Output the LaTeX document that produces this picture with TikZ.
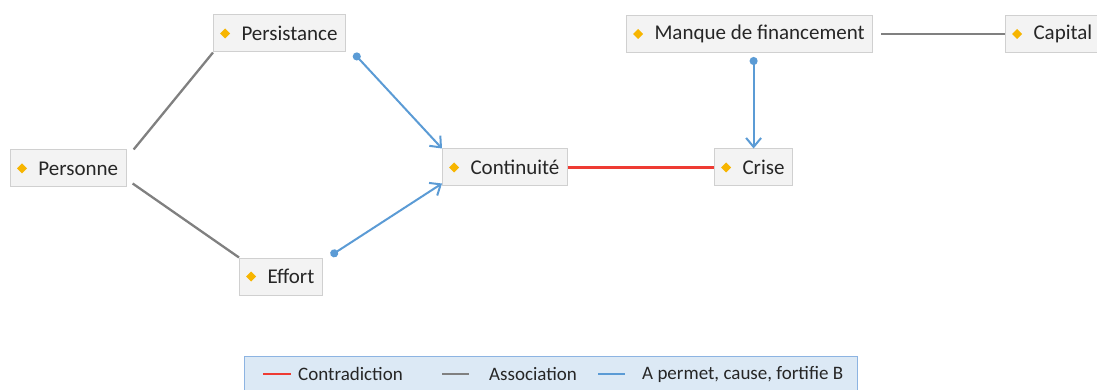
\documentclass[tikz,border=0pt]{standalone}
\usepackage{fontspec}
\setmainfont{Carlito}
\usetikzlibrary{arrows.meta,calc}
\definecolor{boxfill}{HTML}{F3F3F3}
\definecolor{boxline}{HTML}{D0D0D0}
\definecolor{dia}{HTML}{F7B500}
\definecolor{blueln}{HTML}{5B9BD5}
\definecolor{greyln}{HTML}{808080}
\definecolor{redln}{HTML}{EE3B33}
\definecolor{legfill}{HTML}{DCE9F5}
\definecolor{legline}{HTML}{8DB4E2}
\newcommand{\nodefont}{\fontsize{21}{25}\selectfont}
\newcommand{\legfont}{\fontsize{19}{23}\selectfont}
\tikzset{
  box/.style={draw=boxline, fill=boxfill, line width=1pt, minimum height=37pt,
    inner ysep=0pt, inner xsep=0pt, anchor=west, font=\nodefont, text=black!85},
  assoc/.style={draw=greyln, line width=2.3pt},
  contra/.style={draw=redln, line width=2.5pt},
  cause/.style={draw=blueln, line width=2pt,
    {Circle[length=8pt]}-{Straight Barb[length=9pt,width=15pt,line width=2pt]}},
  legtext/.style={anchor=west, font=\legfont, text=black!85, inner sep=0pt},
}
\begin{document}
\begin{tikzpicture}[x=1pt,y=-1pt]
\useasboundingbox (0,0) rectangle (1097,390);
% nodes
\node[box] (personne) at (10,168.5) {\hspace*{28pt}Personne\hspace*{8pt}};
\node[box] (persist) at (213,33.5) {\hspace*{28pt}Persistance\hspace*{8pt}};
\node[box] (effort) at (239,276.5) {\hspace*{28pt}Effort\hspace*{8pt}};
\node[box] (contin) at (442,167.5) {\hspace*{28pt}Continuité\hspace*{8pt}};
\node[box] (crise) at (714,167.5) {\hspace*{28pt}Crise\hspace*{8pt}};
\node[box] (manque) at (626,34) {\hspace*{28pt}Manque de financement\hspace*{8pt}};
\node[box] (capital) at (1005,34) {\hspace*{28pt}Capital\hspace*{8pt}};
% diamonds
\foreach \n in {personne,persist,effort,contin,crise,manque,capital}
  \fill[dia] ([xshift=12pt]\n.west) ++(0,5) -- ++(5,-5) -- ++(-5,-5) -- ++(-5,5) -- cycle;
% connectors
\coordinate (pA) at ($(personne.north east)+(7,0)$);
\coordinate (pB) at ($(personne.south east)+(6,-4)$);
\draw[assoc] (pA) -- (persist.south west);
\draw[assoc] (pB) -- (effort.north west);
\coordinate (sA) at ($(persist.south east)+(8,1)$);
\draw[cause] (sA) -- (contin.north west);
\coordinate (eA) at ($(effort.north east)+(8,-2)$);
\draw[cause] (eA) -- ($(contin.south west)+(0,-3)$);
\draw[contra] (contin.east) -- (crise.west);
\coordinate (mA) at ($(manque.south)+(4,4)$);
\draw[cause] (mA) -- (mA |- crise.north);
\coordinate (mB) at ($(manque.east)+(8,0)$);
\draw[assoc] (mB) -- (capital.west);
% legend
\node[draw=legline, fill=legfill, line width=1pt, minimum width=613pt, minimum height=40pt, anchor=north west, inner sep=0pt] (legend) at (244,356) {};
\coordinate (l1) at (263,374);
\coordinate (l2) at (291,374);
\draw[contra] (l1) -- (l2);
\node[legtext] (t1) at (298,374) {Contradiction};
\coordinate (l3) at (442,374);
\coordinate (l4) at (469,374);
\draw[assoc] (l3) -- (l4);
\node[legtext] (t2) at (489,374) {Association};
\coordinate (l5) at (598,374);
\coordinate (l6) at (625,374);
\draw[blueln, line width=2pt] (l5) -- (l6);
\node[legtext] (t3) at (642,374) {A permet, cause, fortifie B};
\end{tikzpicture}
\end{document}
